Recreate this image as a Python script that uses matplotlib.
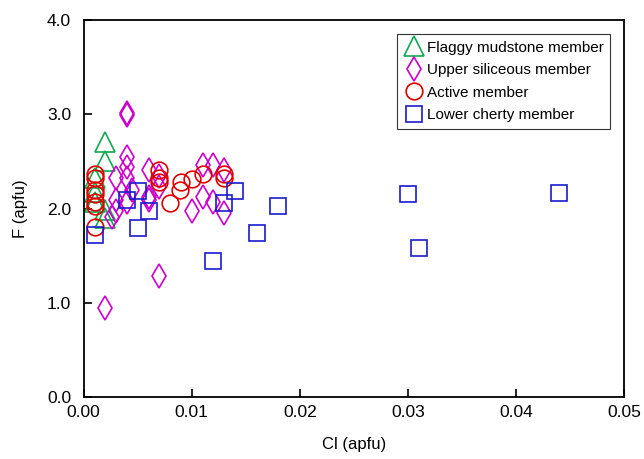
import matplotlib
matplotlib.use('Agg')
from matplotlib import pyplot as plt

plt.rcParams['font.family'] = ['Liberation Sans', 'DejaVu Sans']

# Flaggy mudstone member
flaggy_cl = [0.002, 0.002, 0.001, 0.001, 0.001, 0.002, 0.002]
flaggy_f = [2.71, 2.51, 2.32, 2.18, 2.07, 1.98, 1.90]

# Upper siliceous member
upper_cl = [0.004, 0.004, 0.002, 0.007, 0.004, 0.004, 0.003, 0.004, 0.006, 0.003,
            0.004, 0.003, 0.006, 0.0026, 0.011, 0.012, 0.013, 0.006, 0.011, 0.012,
            0.010, 0.013, 0.007, 0.007, 0.0045]
upper_f = [3.01, 2.99, 0.94, 1.29, 2.55, 2.44, 2.32, 2.32, 2.41, 2.09,
           2.07, 1.97, 2.09, 1.91, 2.46, 2.46, 2.41, 2.12, 2.12, 2.07,
           1.97, 1.95, 2.23, 2.35, 2.20]

# Active member
active_cl = [0.001, 0.001, 0.001, 0.001, 0.001, 0.001, 0.001, 0.007, 0.007, 0.007,
             0.008, 0.0089, 0.009, 0.010, 0.011, 0.013, 0.013]
active_f = [2.37, 2.32, 2.20, 2.16, 2.07, 2.03, 1.81, 2.41, 2.32, 2.28,
            2.06, 2.20, 2.28, 2.31, 2.37, 2.37, 2.32]

# Lower cherty member
lower_cl = [0.014, 0.013, 0.018, 0.016, 0.012, 0.030, 0.031, 0.044, 0.005, 0.004,
            0.006, 0.005, 0.001]
lower_f = [2.19, 2.06, 2.03, 1.74, 1.44, 2.15, 1.58, 2.17, 2.19, 2.09,
           1.97, 1.79, 1.72]

fig = plt.figure(figsize=(6.44, 4.59), dpi=100)
ax = fig.add_axes([0.130, 0.135, 0.839, 0.821])

lw = 1.2
ax.plot(flaggy_cl, flaggy_f, '^', ms=14, mfc='none', mec='#10a850', mew=lw,
        label='Flaggy mudstone member')
ax.plot(upper_cl, upper_f, 'd', ms=12.5, mfc='none', mec='#cc00cc', mew=lw,
        label='Upper siliceous member')
ax.plot(active_cl, active_f, 'o', ms=12, mfc='none', mec='#e00000', mew=lw,
        label='Active member')
ax.plot(lower_cl, lower_f, 's', ms=12, mfc='none', mec='#1a1acc', mew=lw,
        label='Lower cherty member')

ax.set_xlim(0, 0.05)
ax.set_ylim(0, 4.0)
ax.set_xticks([0.00, 0.01, 0.02, 0.03, 0.04, 0.05])
ax.set_xticklabels(['0.00', '0.01', '0.02', '0.03', '0.04', '0.05'])
ax.set_yticks([0.0, 1.0, 2.0, 3.0, 4.0])
ax.set_yticklabels(['0.0', '1.0', '2.0', '3.0', '4.0'])
ax.tick_params(direction='in', length=6, width=1.2, labelsize=12.5)
ax.tick_params(axis='x', pad=6)
ax.tick_params(axis='y', pad=9)
for s in ax.spines.values():
    s.set_linewidth(1.3)

ax.set_xlabel('Cl (apfu)', fontsize=12, labelpad=12)
ax.set_ylabel('F (apfu)', fontsize=12, labelpad=14)

leg = ax.legend(loc='upper right', fontsize=11, frameon=True, fancybox=False,
                edgecolor='black', borderpad=0.45, handletextpad=0.2,
                labelspacing=0.55, handlelength=1.3, markerscale=1.0,
                borderaxespad=0.9)
leg.get_frame().set_linewidth(0.8)

plt.savefig('out.png', dpi=100)
